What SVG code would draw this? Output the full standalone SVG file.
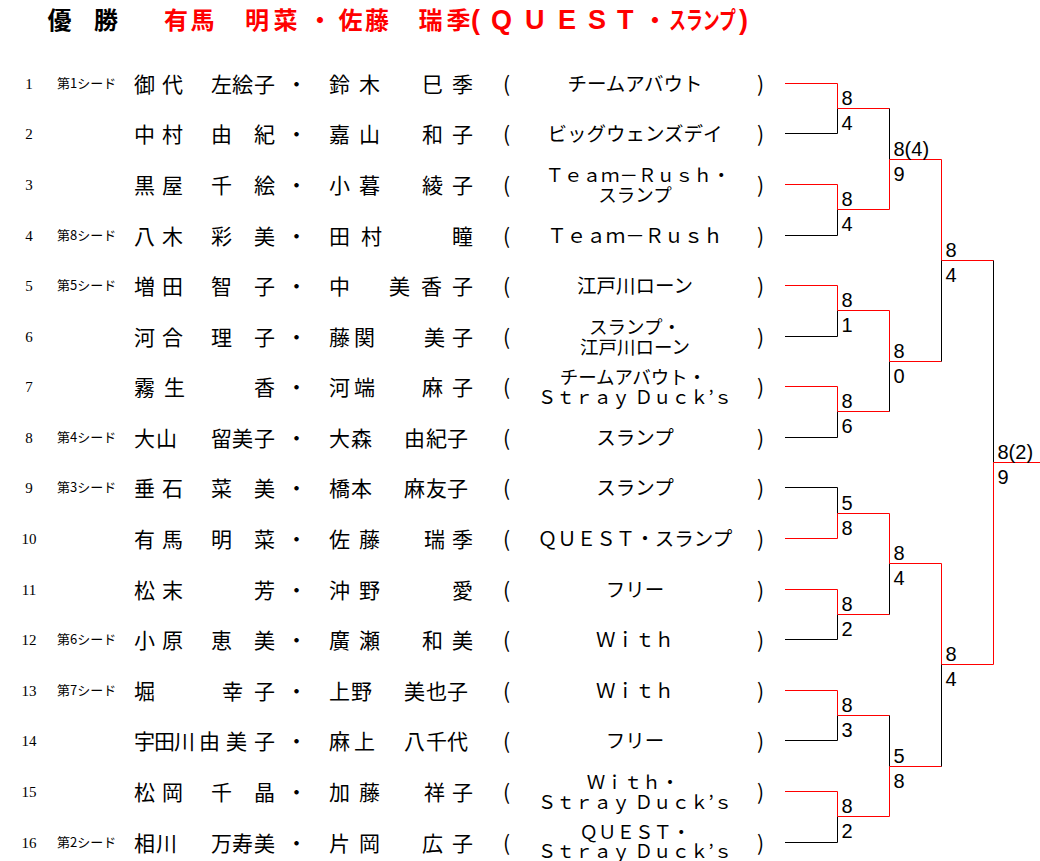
<svg xmlns="http://www.w3.org/2000/svg" width="1040" height="861" viewBox="0 0 1040 861">
<style>
text{font-family:"Noto Sans CJK JP","Noto Sans CJK SC",sans-serif;fill:#000}
.hd{font-size:24px;font-weight:bold}
.hl{font-family:"Liberation Sans",sans-serif;font-size:27px;font-weight:bold}
.red{fill:#f00}
.num{font-family:"Liberation Serif",serif;font-size:15px;text-anchor:middle}
.seed{font-size:13px}
.nm{font-size:21px}
.tm{font-size:19.5px;text-anchor:middle}
.t2{font-size:18.5px;text-anchor:middle}
.sc{font-family:"Liberation Sans",sans-serif;font-size:20px}
.r{stroke:#f00;stroke-width:1;fill:none}
.k{stroke:#000;stroke-width:1;fill:none}
</style>
<rect width="1040" height="861" fill="#fff"/>
<g id="header">
<text class="hd" x="47.5 94" y="29">優勝</text>
<text class="hd red" x="164 190.5 217 245 273.5 308 338.5 365 392 418.5 446.5" y="29">有馬　明菜・佐藤　瑞季</text>
<text class="hl red" x="471" y="29">(</text>
<text class="hl red" x="491 525 558 588 617" y="29">QUEST</text>
<text class="hd red" x="643" y="29">・</text>
<text class="hd red" x="669" y="29" textLength="67" lengthAdjust="spacingAndGlyphs">スランプ</text>
<text class="hl red" x="739" y="29">)</text>
</g>
<g id="entry-1">
<text class="num" x="29" y="89">1</text><text class="seed" x="57" y="88">第1シード</text>
<text class="nm" x="134 162" y="91.5">御代</text><text class="nm" x="211 232 254" y="91.5">左絵子</text><text class="nm" x="286" y="91.5">・</text><text class="nm" x="329 359" y="91.5">鈴木</text><text class="nm" x="422 452" y="91.5">巳季</text>
<text class="nm" x="503" y="91.5">(</text><text class="tm" x="635" y="91">チームアバウト</text><text class="nm" x="757" y="91.5">)</text>
</g>
<g id="entry-2">
<text class="num" x="29" y="139">2</text>
<text class="nm" x="134 162" y="141.5">中村</text><text class="nm" x="211 254" y="141.5">由紀</text><text class="nm" x="286" y="141.5">・</text><text class="nm" x="329 359" y="141.5">嘉山</text><text class="nm" x="422 452" y="141.5">和子</text>
<text class="nm" x="503" y="141.5">(</text><text class="tm" x="635" y="141">ビッグウェンズデイ</text><text class="nm" x="757" y="141.5">)</text>
</g>
<g id="entry-3">
<text class="num" x="29" y="190">3</text>
<text class="nm" x="134 162" y="192.5">黒屋</text><text class="nm" x="211 254" y="192.5">千絵</text><text class="nm" x="286" y="192.5">・</text><text class="nm" x="329 359" y="192.5">小暮</text><text class="nm" x="422 452" y="192.5">綾子</text>
<text class="nm" x="503" y="192.5">(</text><text class="t2" x="638" y="181.5">Ｔｅａｍ－Ｒｕｓｈ・</text><text class="t2" x="635" y="201.5">スランプ</text><text class="nm" x="757" y="192.5">)</text>
</g>
<g id="entry-4">
<text class="num" x="29" y="241">4</text><text class="seed" x="57" y="240">第8シード</text>
<text class="nm" x="134 162" y="243.5">八木</text><text class="nm" x="211 254" y="243.5">彩美</text><text class="nm" x="286" y="243.5">・</text><text class="nm" x="329 361" y="243.5">田村</text><text class="nm" x="452" y="243.5">瞳</text>
<text class="nm" x="503" y="243.5">(</text><text class="tm" x="635" y="243">Ｔｅａｍ－Ｒｕｓｈ</text><text class="nm" x="757" y="243.5">)</text>
</g>
<g id="entry-5">
<text class="num" x="29" y="291">5</text><text class="seed" x="57" y="290">第5シード</text>
<text class="nm" x="134 162" y="293.5">増田</text><text class="nm" x="211 254" y="293.5">智子</text><text class="nm" x="286" y="293.5">・</text><text class="nm" x="329" y="293.5">中</text><text class="nm" x="389 421 452" y="293.5">美香子</text>
<text class="nm" x="503" y="293.5">(</text><text class="tm" x="635" y="293">江戸川ローン</text><text class="nm" x="757" y="293.5">)</text>
</g>
<g id="entry-6">
<text class="num" x="29" y="342">6</text>
<text class="nm" x="134 162" y="344.5">河合</text><text class="nm" x="211 254" y="344.5">理子</text><text class="nm" x="286" y="344.5">・</text><text class="nm" x="329 354" y="344.5">藤関</text><text class="nm" x="424 452" y="344.5">美子</text>
<text class="nm" x="503" y="344.5">(</text><text class="t2" x="635" y="333.5">スランプ・</text><text class="t2" x="635" y="353.5">江戸川ローン</text><text class="nm" x="757" y="344.5">)</text>
</g>
<g id="entry-7">
<text class="num" x="29" y="392">7</text>
<text class="nm" x="134 164" y="394.5">霧生</text><text class="nm" x="254" y="394.5">香</text><text class="nm" x="286" y="394.5">・</text><text class="nm" x="329 354" y="394.5">河端</text><text class="nm" x="422 452" y="394.5">麻子</text>
<text class="nm" x="503" y="394.5">(</text><text class="t2" x="633" y="383.5">チームアバウト・</text><text class="t2" x="635" y="403.5">Ｓｔｒａｙ Ｄｕｃｋ’ｓ</text><text class="nm" x="757" y="394.5">)</text>
</g>
<g id="entry-8">
<text class="num" x="29" y="443">8</text><text class="seed" x="57" y="442">第4シード</text>
<text class="nm" x="134 156" y="445.5">大山</text><text class="nm" x="211 232 254" y="445.5">留美子</text><text class="nm" x="286" y="445.5">・</text><text class="nm" x="329 351" y="445.5">大森</text><text class="nm" x="404 426 447" y="445.5">由紀子</text>
<text class="nm" x="503" y="445.5">(</text><text class="tm" x="635" y="445">スランプ</text><text class="nm" x="757" y="445.5">)</text>
</g>
<g id="entry-9">
<text class="num" x="29" y="493">9</text><text class="seed" x="57" y="492">第3シード</text>
<text class="nm" x="134 162" y="495.5">垂石</text><text class="nm" x="211 254" y="495.5">菜美</text><text class="nm" x="286" y="495.5">・</text><text class="nm" x="329 351" y="495.5">橋本</text><text class="nm" x="404 426 447" y="495.5">麻友子</text>
<text class="nm" x="503" y="495.5">(</text><text class="tm" x="635" y="495">スランプ</text><text class="nm" x="757" y="495.5">)</text>
</g>
<g id="entry-10">
<text class="num" x="29" y="544">10</text>
<text class="nm" x="134 162" y="546.5">有馬</text><text class="nm" x="211 254" y="546.5">明菜</text><text class="nm" x="286" y="546.5">・</text><text class="nm" x="329 359" y="546.5">佐藤</text><text class="nm" x="424 452" y="546.5">瑞季</text>
<text class="nm" x="503" y="546.5">(</text><text class="tm" x="635" y="546">ＱＵＥＳＴ・スランプ</text><text class="nm" x="757" y="546.5">)</text>
</g>
<g id="entry-11">
<text class="num" x="29" y="595">11</text>
<text class="nm" x="134 162" y="597.5">松末</text><text class="nm" x="254" y="597.5">芳</text><text class="nm" x="286" y="597.5">・</text><text class="nm" x="329 359" y="597.5">沖野</text><text class="nm" x="452" y="597.5">愛</text>
<text class="nm" x="503" y="597.5">(</text><text class="tm" x="635" y="597">フリー</text><text class="nm" x="757" y="597.5">)</text>
</g>
<g id="entry-12">
<text class="num" x="29" y="645">12</text><text class="seed" x="57" y="644">第6シード</text>
<text class="nm" x="134 162" y="647.5">小原</text><text class="nm" x="211 254" y="647.5">恵美</text><text class="nm" x="286" y="647.5">・</text><text class="nm" x="329 359" y="647.5">廣瀬</text><text class="nm" x="422 452" y="647.5">和美</text>
<text class="nm" x="503" y="647.5">(</text><text class="tm" x="635" y="647">Ｗｉｔｈ</text><text class="nm" x="757" y="647.5">)</text>
</g>
<g id="entry-13">
<text class="num" x="29" y="696">13</text><text class="seed" x="57" y="695">第7シード</text>
<text class="nm" x="134" y="698.5">堀</text><text class="nm" x="222 254" y="698.5">幸子</text><text class="nm" x="286" y="698.5">・</text><text class="nm" x="329 351" y="698.5">上野</text><text class="nm" x="404 426 447" y="698.5">美也子</text>
<text class="nm" x="503" y="698.5">(</text><text class="tm" x="635" y="698">Ｗｉｔｈ</text><text class="nm" x="757" y="698.5">)</text>
</g>
<g id="entry-14">
<text class="num" x="29" y="746">14</text>
<text class="nm" x="134 154 174" y="748.5">宇田川</text><text class="nm" x="199 226 254" y="748.5">由美子</text><text class="nm" x="286" y="748.5">・</text><text class="nm" x="329 354" y="748.5">麻上</text><text class="nm" x="404 426 447" y="748.5">八千代</text>
<text class="nm" x="503" y="748.5">(</text><text class="tm" x="635" y="748">フリー</text><text class="nm" x="757" y="748.5">)</text>
</g>
<g id="entry-15">
<text class="num" x="29" y="797">15</text>
<text class="nm" x="134 162" y="799.5">松岡</text><text class="nm" x="211 254" y="799.5">千晶</text><text class="nm" x="286" y="799.5">・</text><text class="nm" x="329 359" y="799.5">加藤</text><text class="nm" x="424 452" y="799.5">祥子</text>
<text class="nm" x="503" y="799.5">(</text><text class="t2" x="633" y="788.5">Ｗｉｔｈ・</text><text class="t2" x="635" y="808.5">Ｓｔｒａｙ Ｄｕｃｋ’ｓ</text><text class="nm" x="757" y="799.5">)</text>
</g>
<g id="entry-16">
<text class="num" x="29" y="848">16</text><text class="seed" x="57" y="847">第2シード</text>
<text class="nm" x="134 156" y="850.5">相川</text><text class="nm" x="211 232 254" y="850.5">万寿美</text><text class="nm" x="286" y="850.5">・</text><text class="nm" x="329 359" y="850.5">片岡</text><text class="nm" x="422 452" y="850.5">広子</text>
<text class="nm" x="503" y="850.5">(</text><text class="t2" x="635" y="838.5">ＱＵＥＳＴ・</text><text class="t2" x="635" y="857.5">Ｓｔｒａｙ Ｄｕｃｋ’ｓ</text><text class="nm" x="757" y="850.5">)</text>
</g>
<g id="connectors">
<path class="r" d="M785 83.5H837.5M785 184.5H837.5M785 285.5H837.5M785 386.5H837.5M785 538.5H837.5M785 589.5H837.5M785 690.5H837.5M785 791.5H837.5"/>
<path class="k" d="M785 133.5H837.5M785 235.5H837.5M785 336.5H837.5M785 437.5H837.5M785 487.5H837.5M785 639.5H837.5M785 740.5H837.5M785 842.5H837.5"/>
<path class="r" d="M837.5 83.5V108.5M837.5 184.5V209.5M837.5 285.5V310.5M837.5 386.5V411.5M837.5 513.5V538.5M837.5 589.5V614.5M837.5 690.5V715.5M837.5 791.5V816.5"/>
<path class="k" d="M837.5 108.5V133.5M837.5 209.5V235.5M837.5 310.5V336.5M837.5 411.5V437.5M837.5 487.5V513.5M837.5 614.5V639.5M837.5 715.5V740.5M837.5 816.5V842.5"/>
<path class="r" d="M837.5 108.5H889.5M837.5 209.5H889.5M837.5 310.5H889.5M837.5 411.5H889.5M837.5 513.5H889.5M837.5 614.5H889.5M837.5 715.5H889.5M837.5 816.5H889.5"/>
<path class="r" d="M889.5 159.5V209.5M889.5 310.5V361.5M889.5 513.5V563.5M889.5 766.5V816.5"/>
<path class="k" d="M889.5 108.5V159.5M889.5 361.5V411.5M889.5 563.5V614.5M889.5 715.5V766.5"/>
<path class="r" d="M889.5 159.5H941.5M889.5 361.5H941.5M889.5 563.5H941.5M889.5 766.5H941.5"/>
<path class="r" d="M941.5 159.5V260.5M941.5 563.5V664.5M941.5 260.5H993.5M941.5 664.5H993.5"/>
<path class="k" d="M941.5 260.5V361.5M941.5 664.5V766.5M993.5 260.5V462.5"/>
<path class="r" d="M993.5 462.5V664.5M993.5 462.5H1040"/>
</g>
<g id="scores">
<text class="sc" x="841.5" y="104.5">8</text><text class="sc" x="841.5" y="129.5">4</text>
<text class="sc" x="841.5" y="205.5">8</text><text class="sc" x="841.5" y="230.5">4</text>
<text class="sc" x="841.5" y="306.5">8</text><text class="sc" x="841.5" y="331.5">1</text>
<text class="sc" x="841.5" y="407.5">8</text><text class="sc" x="841.5" y="432.5">6</text>
<text class="sc" x="841.5" y="509.5">5</text><text class="sc" x="841.5" y="534.5">8</text>
<text class="sc" x="841.5" y="610.5">8</text><text class="sc" x="841.5" y="635.5">2</text>
<text class="sc" x="841.5" y="711.5">8</text><text class="sc" x="841.5" y="736.5">3</text>
<text class="sc" x="841.5" y="812.5">8</text><text class="sc" x="841.5" y="837.5">2</text>
<text class="sc" x="893.5" y="155.5">8(4)</text><text class="sc" x="893.5" y="180.5">9</text>
<text class="sc" x="893.5" y="357.5">8</text><text class="sc" x="893.5" y="382.5">0</text>
<text class="sc" x="893.5" y="559.5">8</text><text class="sc" x="893.5" y="584.5">4</text>
<text class="sc" x="893.5" y="762.5">5</text><text class="sc" x="893.5" y="787.5">8</text>
<text class="sc" x="945.5" y="256.5">8</text><text class="sc" x="945.5" y="281.5">4</text>
<text class="sc" x="945.5" y="660.5">8</text><text class="sc" x="945.5" y="685.5">4</text>
<text class="sc" x="997.5" y="458.5">8(2)</text><text class="sc" x="997.5" y="483.5">9</text>
</g>
</svg>
